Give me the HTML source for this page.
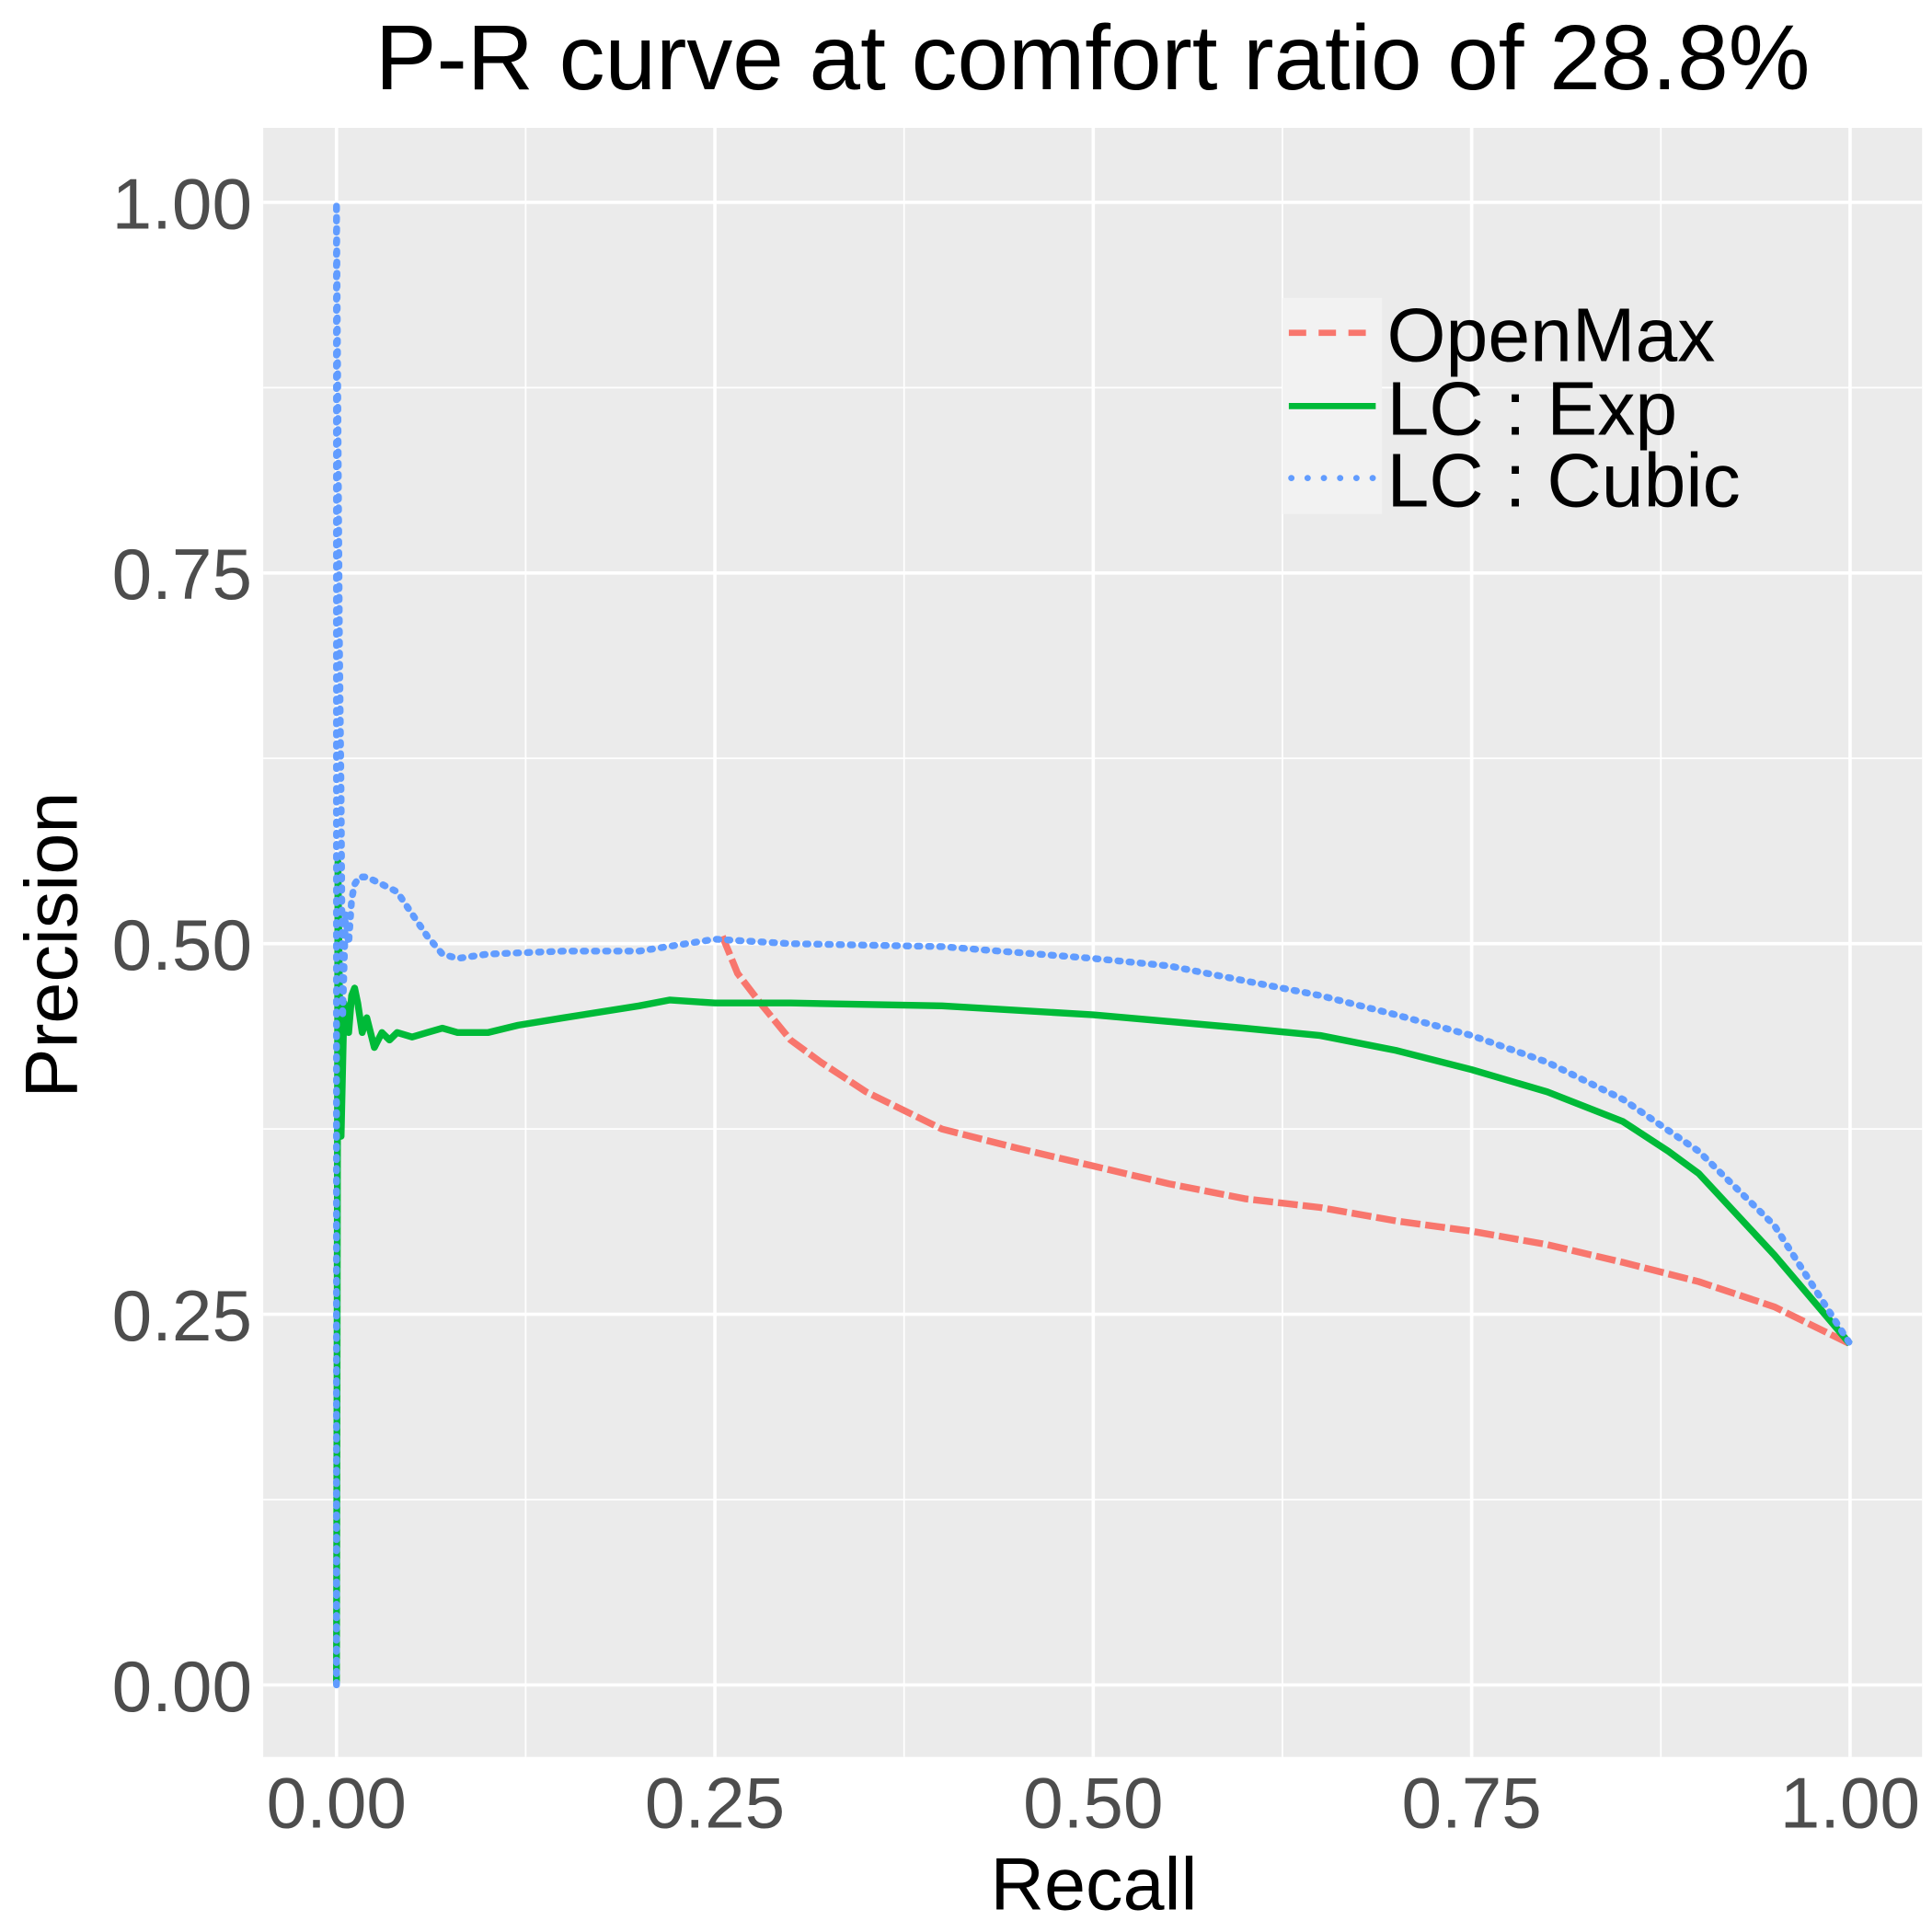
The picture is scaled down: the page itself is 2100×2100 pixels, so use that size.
<!DOCTYPE html>
<html><head><meta charset="utf-8"><style>
html,body{margin:0;padding:0;background:#fff}
svg{display:block}
text{font-family:"Liberation Sans",Arial,sans-serif}
</style></head><body>
<svg id="chart" width="2100" height="2100" viewBox="0 0 1556 1556" xmlns="http://www.w3.org/2000/svg">
<rect width="1556" height="1556" fill="#fff"/>
<text x="880" y="72" font-size="74" text-anchor="middle" fill="#000">P-R curve at comfort ratio of 28.8%</text>
<rect x="212" y="103" width="1336" height="1312" fill="#EBEBEB"/>
<g id="grid"></g>
<g id="series"></g>
<g id="ticks"></g>
<text x="881" y="1538" font-size="60" text-anchor="middle" fill="#000">Recall</text>
<text transform="translate(62,761) rotate(-90)" font-size="60" text-anchor="middle" fill="#000">Precision</text>
<g>
<rect x="1033" y="240" width="80" height="174" fill="#F2F2F2"/>
<line x1="1038" y1="268" x2="1108" y2="268" stroke="#F8766D" stroke-width="5" stroke-dasharray="14,10"/>
<line x1="1038" y1="327" x2="1108" y2="327" stroke="#00BA38" stroke-width="5"/>
<line x1="1040" y1="385" x2="1108" y2="385" stroke="#619CFF" stroke-width="5" stroke-linecap="round" stroke-dasharray="0.1,13"/>
<text x="1117" y="291" font-size="61" fill="#000">OpenMax</text>
<text x="1117" y="350" font-size="61" fill="#000">LC : Exp</text>
<text x="1117" y="408" font-size="61" fill="#000">LC : Cubic</text>
</g>
</svg>
<script>
const xTicks=[0,0.25,0.5,0.75,1];
const yTicks=[0,0.25,0.5,0.75,1];
const tickLabels=["0.00","0.25","0.50","0.75","1.00"];
const openmaxR=[0.255,0.265,0.28,0.3,0.32,0.35,0.4,0.45,0.5,0.55,0.6,0.65,0.7,0.75,0.8,0.85,0.9,0.95,1.0];
const openmaxP=[0.505,0.48,0.46,0.435,0.42,0.40,0.375,0.362,0.35,0.338,0.328,0.322,0.313,0.306,0.297,0.285,0.272,0.255,0.23];
const expR=[0,0.001,0.003,0.005,0.008,0.01,0.012,0.014,0.017,0.02,0.025,0.03,0.035,0.04,0.05,0.06,0.07,0.08,0.1,0.12,0.15,0.2,0.22,0.25,0.3,0.4,0.5,0.6,0.65,0.7,0.75,0.8,0.85,0.88,0.9,0.95,1.0];
const expP=[0,0.555,0.37,0.46,0.44,0.465,0.47,0.46,0.44,0.45,0.43,0.44,0.435,0.44,0.437,0.44,0.443,0.44,0.44,0.445,0.45,0.458,0.462,0.46,0.46,0.458,0.452,0.443,0.438,0.428,0.415,0.4,0.38,0.36,0.345,0.29,0.23];
const cubicR=[0,0,0.001,0.002,0.003,0.004,0.006,0.008,0.01,0.012,0.015,0.02,0.03,0.04,0.05,0.06,0.07,0.08,0.1,0.15,0.2,0.25,0.3,0.4,0.5,0.55,0.6,0.65,0.7,0.75,0.8,0.85,0.9,0.95,1.0];
const cubicP=[0,1.0,0.85,0.7,0.6,0.45,0.52,0.5,0.53,0.54,0.545,0.545,0.54,0.535,0.52,0.505,0.493,0.49,0.493,0.495,0.495,0.503,0.5,0.498,0.49,0.485,0.475,0.465,0.452,0.438,0.42,0.395,0.36,0.31,0.23];
const NS="http://www.w3.org/2000/svg";
const xs=v=>271+1219*v, ys=v=>1357-1194*v;
const grid=document.getElementById('grid'), ticks=document.getElementById('ticks'), ser=document.getElementById('series');
function mk(tag,attrs,parent){const e=document.createElementNS(NS,tag);for(const k in attrs)e.setAttribute(k,attrs[k]);parent.appendChild(e);return e;}
[0.125,0.375,0.625,0.875].forEach(v=>{
 const l=mk('line',{x1:xs(v),x2:xs(v),y1:103,y2:1415,stroke:'#fff','stroke-width':1.3},grid);
 
 
 const m=mk('line',{x1:212,x2:1548,y1:ys(v),y2:ys(v),stroke:'#fff','stroke-width':1.3},grid);
 
 
});
xTicks.forEach((v,i)=>{
 const l=mk('line',{x1:xs(v),x2:xs(v),y1:103,y2:1415,stroke:'#fff','stroke-width':2.7},grid);
 
 
 const t=mk('text',{x:xs(v),y:1472,'font-size':58,'text-anchor':'middle',fill:'#4D4D4D'},ticks);
 t.textContent=tickLabels[i];
 
 
});
yTicks.forEach((v,i)=>{
 const l=mk('line',{x1:212,x2:1548,y1:ys(v),y2:ys(v),stroke:'#fff','stroke-width':2.7},grid);
 
 
 const t=mk('text',{x:203,y:ys(v)+21,'font-size':58,'text-anchor':'end',fill:'#4D4D4D'},ticks);
 t.textContent=tickLabels[i];
 
 
});
function line(R,P,color,dash,name,cap){
 const d=R.map((r,i)=>(i?'L':'M')+xs(r).toFixed(1)+','+ys(P[i]).toFixed(1)).join(' ');
 const p=mk('path',{d:d,fill:'none',stroke:color,'stroke-width':5.5,'stroke-linejoin':'round','stroke-linecap':cap||'butt'},ser);
 if(dash)p.setAttribute('stroke-dasharray',dash);
 
 
}
line(openmaxR,openmaxP,'#F8766D','16,4','openmax-line');
line(expR,expP,'#00BA38',null,'lc-exp-line');
line(cubicR,cubicP,'#619CFF','2,7','lc-cubic-line','round');
</script>
</body></html>
